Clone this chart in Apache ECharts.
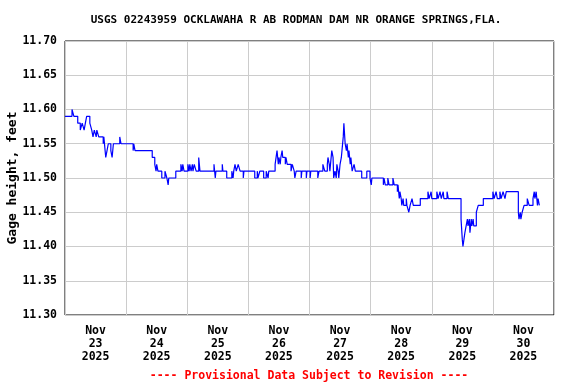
<!DOCTYPE html>
<html>
<head>
<meta charset="utf-8">
<script src="https://cdn.jsdelivr.net/npm/echarts@6/dist/echarts.min.js"></script>
<style>html,body{margin:0;padding:0;background:#fff;}#c{width:576px;height:384px;}</style>
</head>
<body>
<div id="c"></div>
<script>
// Hours since 2025-11-23 00:00 (local) at which the gage height changes
const hours = [
  0, 2.75, 3.5, 5, 6, 6.75, 7.5, 8, 8.5, 9.75, 10.5, 11, 11.5, 12.25, 12.5, 13.25,
  15, 15.25, 15.75, 16, 16.5, 17, 18, 18.5, 19, 21.5, 22, 26.75, 27, 27.5,
  34.25, 35.25, 35.75, 36, 36.5, 38, 39.25, 40, 40.5, 40.75, 43.5, 45.5, 46, 46.25, 46.75,
  48.25, 48.75, 49, 49.5, 50, 50.25, 50.75, 51.5, 52.5, 53, 58.5, 59, 59.25, 61.75, 62,
  63.5, 65.5, 66, 66.25, 66.75, 67.25, 68, 68.75, 70, 70.25, 74.5, 75.5, 75.75, 76.5,
  78, 79, 79.75, 80, 82.5, 83.25, 83.75, 84, 84.5, 84.75, 85.25, 85.5, 86.5, 86.75, 87.25,
  88.75, 89.25, 90, 90.25, 90.75, 92.75, 93, 94.75, 95, 96.25, 96.5, 99.25, 99.75,
  101.25, 102, 103, 103.25, 103.75, 104, 104.75, 105.25, 105.5, 106, 106.5, 106.75, 107.25, 107.5,
  108, 108.5, 108.75, 109.25, 109.5, 110, 110.5, 110.75, 111.25, 111.5, 112, 112.25, 112.75,
  113.5, 114, 116.5, 118.5, 119.75, 120.25, 120.5, 125, 125.25, 125.75, 126.75, 127.25,
  128.75, 129.25, 130.5, 130.75, 131.25, 131.5, 132, 132.25, 132.75, 133, 134, 134.25,
  135, 135.5, 136.25, 136.75, 139.5, 142.5, 143, 143.75, 144, 146, 146.5, 147.25, 147.75,
  148.5, 148.75, 150, 150.5, 155.5, 156, 156.25, 157, 157.5, 158, 158.25, 158.75, 159,
  159.5, 159.75, 160.25, 160.5, 161.5, 162.25, 164.25, 168, 168.5, 169.25, 169.75, 170.75,
  171.25, 172, 172.75, 173.25, 178, 178.25, 178.75, 179, 179.5, 180.25, 181.5, 182.25,
  183.75, 184.25, 184.5, 185, 185.5, 185.75, 186.25, 186.5
];
const gageHeight = [
  11.59, 11.60, 11.59, 11.58, 11.57, 11.58, 11.57, 11.58, 11.59, 11.58, 11.57, 11.56, 11.57, 11.56, 11.57, 11.56,
  11.55, 11.56, 11.54, 11.53, 11.54, 11.55, 11.54, 11.53, 11.55, 11.56, 11.55, 11.54, 11.55, 11.54,
  11.53, 11.52, 11.51, 11.52, 11.51, 11.50, 11.51, 11.50, 11.49, 11.50, 11.51, 11.52, 11.51, 11.52, 11.51,
  11.52, 11.51, 11.52, 11.51, 11.52, 11.51, 11.52, 11.51, 11.53, 11.51, 11.52, 11.50, 11.51, 11.52, 11.51,
  11.50, 11.51, 11.50, 11.51, 11.52, 11.51, 11.52, 11.51, 11.50, 11.51, 11.50, 11.51, 11.50, 11.51,
  11.50, 11.51, 11.50, 11.51, 11.52, 11.54, 11.52, 11.53, 11.52, 11.53, 11.54, 11.53, 11.52, 11.53, 11.52,
  11.51, 11.52, 11.51, 11.50, 11.51, 11.50, 11.51, 11.50, 11.51, 11.50, 11.51, 11.50, 11.51,
  11.52, 11.51, 11.52, 11.53, 11.52, 11.51, 11.54, 11.53, 11.50, 11.51, 11.50, 11.52, 11.51, 11.50,
  11.52, 11.53, 11.54, 11.56, 11.58, 11.55, 11.54, 11.55, 11.53, 11.54, 11.52, 11.53, 11.51,
  11.52, 11.51, 11.50, 11.51, 11.50, 11.49, 11.50, 11.49, 11.50, 11.49, 11.50, 11.49,
  11.50, 11.49, 11.48, 11.49, 11.47, 11.48, 11.47, 11.46, 11.47, 11.46, 11.47, 11.46,
  11.45, 11.46, 11.47, 11.46, 11.47, 11.48, 11.47, 11.48, 11.47, 11.48, 11.47, 11.48, 11.47,
  11.48, 11.47, 11.48, 11.47, 11.44, 11.41, 11.40, 11.42, 11.43, 11.44, 11.43, 11.44, 11.42,
  11.44, 11.43, 11.44, 11.43, 11.45, 11.46, 11.47, 11.48, 11.47, 11.48, 11.47, 11.48,
  11.47, 11.48, 11.47, 11.48, 11.45, 11.44, 11.45, 11.44, 11.45, 11.46, 11.47, 11.46,
  11.47, 11.48, 11.47, 11.48, 11.46, 11.47, 11.46, 11.46
];
const dayLabels = ['Nov\n23\n2025','Nov\n24\n2025','Nov\n25\n2025','Nov\n26\n2025','Nov\n27\n2025','Nov\n28\n2025','Nov\n29\n2025','Nov\n30\n2025'];
const titleText = 'USGS 02243959 OCKLAWAHA R AB RODMAN DAM NR ORANGE SPRINGS,FLA.';
const yName = 'Gage height, feet';
const footer = '---- Provisional Data Subject to Revision ----';

const font = 'DejaVu Sans Mono';
const chart = echarts.init(document.getElementById('c'), null, {renderer: 'canvas'});
const data = hours.map((h, i) => [h, gageHeight[i]]);
chart.setOption({
  animation: false,
  backgroundColor: '#fff',
  title: [
    {text: titleText, left: 291, top: 10, textAlign: 'center',
     textStyle: {fontFamily: font, fontWeight: 'bold', fontSize: 11, color: '#000'}},
    {text: footer, left: 304, top: 365, textAlign: 'center',
     textStyle: {fontFamily: font, fontWeight: 'bold', fontSize: 11.5, color: '#ff0000'}}
  ],
  grid: {left: 65, right: 22, top: 41, bottom: 69, show: true, borderColor: '#000', borderWidth: 1,
    backgroundColor: 'transparent', containLabel: false, outerBoundsMode: 'none'},
  xAxis: [
    {type: 'value', min: 0, max: 192, interval: 24,
     axisLine: {show: false}, axisTick: {show: false}, axisLabel: {show: false},
     splitLine: {show: true, lineStyle: {color: '#cccccc', width: 1}}},
    {type: 'value', min: 0, max: 192, interval: 12, position: 'bottom',
     axisLine: {show: false}, axisTick: {show: false}, splitLine: {show: false},
     axisLabel: {show: true, margin: 10, lineHeight: 13, fontFamily: font, fontWeight: 'bold', fontSize: 11.5, color: '#000',
       formatter: v => { const k = Math.round(v / 12); return k % 2 === 1 ? dayLabels[(k - 1) / 2] : ''; }}}
  ],
  yAxis: {type: 'value', min: 11.30, max: 11.70, interval: 0.05,
    name: yName, nameLocation: 'middle', nameGap: 46, nameRotate: 90, nameMoveOverlap: false,
    nameTextStyle: {fontFamily: font, fontWeight: 'bold', fontSize: 13, color: '#000'},
    axisLine: {show: false}, axisTick: {show: false},
    axisLabel: {margin: 8, fontFamily: font, fontWeight: 'bold', fontSize: 11.5, color: '#000', formatter: v => v.toFixed(2)},
    splitLine: {show: true, lineStyle: {color: '#cccccc', width: 1}}},
  series: [{
    type: 'line', xAxisIndex: 0, data: data, step: 'end', showSymbol: false, symbol: 'none',
    lineStyle: {color: '#0000ff', width: 1.2}, z: 3
  }]
});
</script>
</body>
</html>
